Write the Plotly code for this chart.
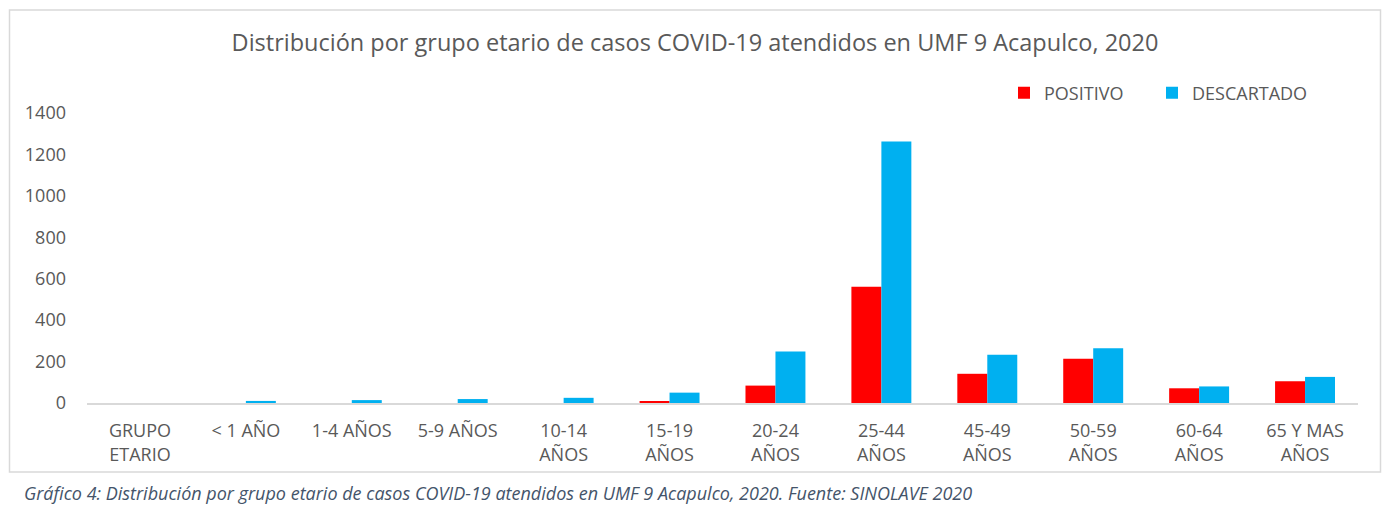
import plotly.graph_objects as go

categories = ["GRUPO<br>ETARIO", "< 1 AÑO", "1-4 AÑOS", "5-9 AÑOS", "10-14<br>AÑOS",
              "15-19<br>AÑOS", "20-24<br>AÑOS", "25-44<br>AÑOS", "45-49<br>AÑOS",
              "50-59<br>AÑOS", "60-64<br>AÑOS", "65 Y MAS<br>AÑOS"]
positivo = [0, 0, 0, 0, 0, 8, 84, 561, 141, 214, 71, 105]
descartado = [0, 10, 14, 19, 25, 50, 249, 1263, 233, 264, 80, 126]
y_ticks = [0, 200, 400, 600, 800, 1000, 1200, 1400]

title_text = "Distribución por grupo etario de casos COVID-19 atendidos en UMF 9 Acapulco, 2020"
caption_text = "Gráfico 4: Distribución por grupo etario de casos COVID-19 atendidos en UMF 9 Acapulco, 2020. Fuente: SINOLAVE 2020"

OFF = 8  # page body offset
W, H = 1390 - 2 * OFF, 520 - 2 * OFF
# target page-pixel positions
P_LEFT, P_RIGHT, P_TOP, P_BOTTOM = 87, 1358, 113, 403
ML, MT = P_LEFT - OFF, P_TOP - OFF
MR = W - (P_RIGHT - OFF)
MB = H - (P_BOTTOM - OFF)
PW, PH = W - ML - MR, H - MT - MB

def px_x(x):
    return (x - OFF - ML) / PW

def px_y(y):
    return (P_BOTTOM - y) / PH

FONT = "Open Sans"
GRAY = "#595959"

fig = go.Figure()
fig.add_trace(go.Bar(name="POSITIVO", x=categories, y=positivo, legend="legend",
                     marker=dict(color="#FF0000", line=dict(width=0))))
fig.add_trace(go.Bar(name="DESCARTADO", x=categories, y=descartado, legend="legend2",
                     marker=dict(color="#00B0F0", line=dict(width=0))))

legend_common = dict(orientation="h", yanchor="middle", xanchor="left",
                     font=dict(family=FONT, size=18, color=GRAY),
                     bgcolor="rgba(0,0,0,0)", itemwidth=30)

fig.update_layout(
    width=W, height=H,
    margin=dict(l=ML, r=MR, t=MT, b=MB, pad=0),
    paper_bgcolor="white", plot_bgcolor="white",
    barmode="group", bargap=0.434, bargroupgap=0,
    font=dict(family=FONT, color=GRAY, size=17),
    title=dict(text=title_text, x=px_x(695), xref="paper", xanchor="center",
               y=1 - (43 - OFF) / H, yanchor="middle",
               font=dict(family=FONT, size=23.5, color=GRAY)),
    legend=dict(x=px_x(1004), y=px_y(93), **legend_common),
    legend2=dict(x=px_x(1152), y=px_y(93), **legend_common),
    xaxis=dict(showgrid=False, showline=True, linecolor="#D9D9D9", linewidth=1.5,
               ticks="", tickfont=dict(family=FONT, size=18, color=GRAY),
               ticklabelstandoff=11, zeroline=False),
    yaxis=dict(range=[0, 1400], tickvals=y_ticks, showgrid=False, showline=False,
               zeroline=False, ticks="", tickfont=dict(family=FONT, size=18, color=GRAY),
               ticklabelstandoff=20),
    showlegend=True,
)

fig.add_shape(type="rect", xref="paper", yref="paper",
              x0=px_x(OFF + 1.5), x1=px_x(OFF + W - 1.5), y0=px_y(472), y1=px_y(10),
              line=dict(color="#D9D9D9", width=1.5), fillcolor="rgba(0,0,0,0)", layer="below")

fig.add_annotation(text="<i>" + caption_text + "</i>", xref="paper", yref="paper",
                   x=px_x(22), y=px_y(493), xanchor="left", yanchor="middle",
                   showarrow=False, font=dict(family=FONT, size=18, color="#44546A"))

fig.write_html("out.html")
